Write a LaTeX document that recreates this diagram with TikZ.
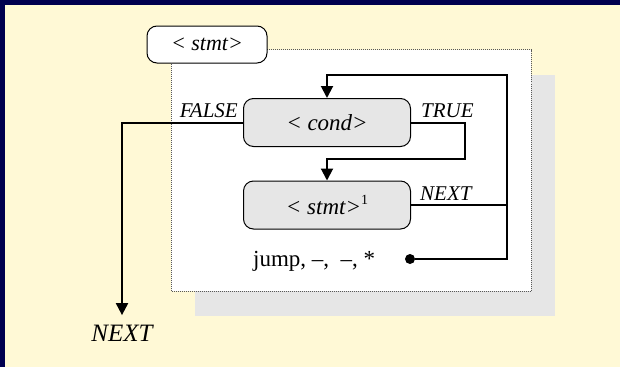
\documentclass[tikz,border=0pt]{standalone}
\usepackage{fontspec}
\setmainfont{Liberation Serif}
\usetikzlibrary{arrows.meta, positioning}
\definecolor{navy}{RGB}{0,0,80}
\definecolor{paper}{RGB}{255,249,214}
\definecolor{boxgray}{RGB}{230,230,230}

\begin{document}
\begin{tikzpicture}[x=1pt, y=-1pt,
    block/.style={draw, rounded corners=10pt, fill=boxgray, line width=1pt,
      minimum width=167pt, minimum height=48pt, font=\fontsize{23}{26}\selectfont\itshape},
    flow/.style={line width=2pt, -{Triangle[length=12pt, width=12pt]}},
    wire/.style={line width=2pt},
    lbl/.style={inner sep=0pt, font=\fontsize{21}{24}\selectfont\itshape}]
  % page and its border
  \fill[navy] (0,0) rectangle (620,367);
  \fill[paper] (5,5) rectangle (620,367);
  % frame of the statement, with its shadow
  \fill[boxgray] (195,75) rectangle (555,316);
  \draw[densely dotted, black!65, fill=white, line width=1pt] (171,49.5) rectangle (531,291);
  \node[draw, fill=white, rounded corners=10pt, line width=1pt, minimum width=120pt,
    minimum height=37pt, font=\fontsize{22}{26}\selectfont\itshape] (stmt) at (207,44.5) {< stmt>};
  % condition and body
  \node[block] (cond) at (327,122.5) {< cond>};
  \node[block] (body) at (327,205) {< stmt>\raisebox{10pt}{\fontsize{14}{14}\selectfont\upshape 1}};
  \node[anchor=base west, inner sep=0pt, font=\fontsize{23}{26}\selectfont] (jump) at (253,266) {jump, --, \ --, *};
  \node[circle, fill, inner sep=0pt, minimum size=10pt] (dot) at (410,259) {};
  \node[lbl, font=\fontsize{25}{28}\selectfont\itshape] (next) at (122,333.5) {NEXT};
  % turning points
  \coordinate (loop) at (507,75);
  \coordinate (turn) at (465,159);
  % connectors
  \draw[flow] (dot) -| (loop) -| (cond.north);
  \draw[flow] (cond.east) -| (turn) -| (body.north);
  \draw[flow, shorten >=10pt] (cond.west) -| (next.north);
  \draw[wire] (body.east) -- (body.east -| loop);
  % labels
  \node[lbl, anchor=base east] (false) at (238,117) {FALSE};
  \node[lbl, anchor=base west] (true) at (421,117) {TRUE};
  \node[lbl, anchor=base west] (next1) at (420,200) {NEXT};
\end{tikzpicture}
\end{document}
